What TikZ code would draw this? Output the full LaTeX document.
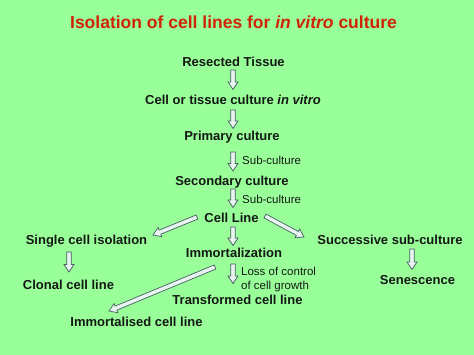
\documentclass[tikz,border=0pt]{standalone}
\usepackage{fontspec}
\setmainfont{Liberation Sans}
\usetikzlibrary{calc}
\definecolor{bggreen}{RGB}{153,255,153}
\definecolor{titlered}{RGB}{208,36,8}
\definecolor{txt}{RGB}{20,24,20}
\definecolor{arrfill}{RGB}{232,244,240}
\definecolor{arrdraw}{RGB}{70,96,96}
\tikzset{
  mainlbl/.style={anchor=base, inner sep=0pt, text=txt, font=\fontsize{13}{15}\selectfont\bfseries},
  smalllbl/.style={anchor=base west, inner sep=0pt, text=txt, font=\fontsize{11.5}{13.6}\selectfont, align=left},
  titlelbl/.style={anchor=base, inner sep=0pt, text=titlered, font=\fontsize{17.5}{20}\selectfont\bfseries},
  blockarr/.style={fill=arrfill, draw=arrdraw, line width=0.7pt, line join=miter}
}
\newcommand{\blockarrow}[2]{%
  \path (#1); \pgfgetlastxy{\bax}{\bay}%
  \path (#2); \pgfgetlastxy{\bbx}{\bby}%
  \pgfmathsetmacro{\bang}{atan2(\bby-\bay,\bbx-\bax)}%
  \pgfmathsetmacro{\blen}{veclen(\bbx-\bax,\bby-\bay)}%
  \begin{scope}[shift={(\bax,\bay)}, rotate=\bang]
    \draw[blockarr] (0pt,2.2pt) -- ({\blen pt-7.5pt},2.2pt) -- ({\blen pt-7.5pt},5pt)
      -- ({\blen pt},0pt) -- ({\blen pt-7.5pt},-5pt) -- ({\blen pt-7.5pt},-2.2pt)
      -- (0pt,-2.2pt) -- cycle;
  \end{scope}}
\begin{document}
\begin{tikzpicture}[x=1pt,y=-1pt]
\fill[bggreen] (0,0) rectangle (474,355);
\useasboundingbox (0,0) rectangle (474,355);
% title
\node[titlelbl] (title) at (233.5,28.7) {Isolation of cell lines for \textit{in vitro} culture};
% main nodes
\node[mainlbl] (resected) at (233.5,66.7) {Resected Tissue};
\node[mainlbl] (cellor) at (233,104.7) {Cell or tissue culture \textit{in vitro}};
\node[mainlbl] (primary) at (232,140.7) {Primary culture};
\node[mainlbl] (secondary) at (232,185.7) {Secondary culture};
\node[mainlbl] (cellline) at (231.5,222.7) {Cell Line};
\node[mainlbl] (single) at (86.5,245) {Single cell isolation};
\node[mainlbl] (immort) at (234,258) {Immortalization};
\node[mainlbl] (success) at (390,245) {Successive sub-culture};
\node[mainlbl] (clonal) at (68.5,289.3) {Clonal cell line};
\node[mainlbl] (senesc) at (417.5,284.3) {Senescence};
\node[mainlbl] (transf) at (237.5,304.3) {Transformed cell line};
\node[mainlbl] (immline) at (136.5,326.7) {Immortalised cell line};
% small labels
\node[smalllbl] (sub1) at (242,165) {Sub-culture};
\node[smalllbl] (sub2) at (242,204) {Sub-culture};
\node[smalllbl] (loss) at (241,289.3) {Loss of control\\of cell growth};
% arrow end points
\coordinate (a1s) at (233,70);  \coordinate (a1e) at (233,89.5);
\coordinate (a2s) at (233,110); \coordinate (a2e) at (233,128.5);
\coordinate (a3s) at (233,152); \coordinate (a3e) at (233,171);
\coordinate (a4s) at (233,189); \coordinate (a4e) at (233,207.5);
\coordinate (a5s) at (233,227); \coordinate (a5e) at (233,245.5);
\coordinate (lds) at (197,217); \coordinate (lde) at (153,235);
\coordinate (rds) at (265,216); \coordinate (rde) at (304,237);
\coordinate (sgs) at (69,252);  \coordinate (sge) at (69,272);
\coordinate (scs) at (412,249); \coordinate (sce) at (412,269.5);
\coordinate (ims) at (233,264); \coordinate (ime) at (233,283.5);
\coordinate (lgs) at (215,267); \coordinate (lge) at (109,311);
\blockarrow{a1s}{a1e}
\blockarrow{a2s}{a2e}
\blockarrow{a3s}{a3e}
\blockarrow{a4s}{a4e}
\blockarrow{a5s}{a5e}
\blockarrow{lds}{lde}
\blockarrow{rds}{rde}
\blockarrow{sgs}{sge}
\blockarrow{scs}{sce}
\blockarrow{ims}{ime}
\blockarrow{lgs}{lge}
\end{tikzpicture}
\end{document}
